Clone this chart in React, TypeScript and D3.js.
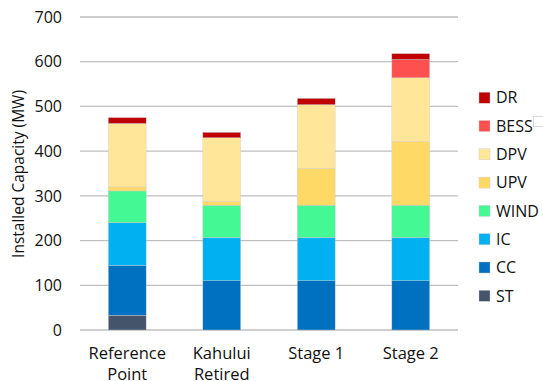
import React, { useEffect, useRef } from 'react';
import * as d3 from 'd3';

const categories = [['Reference', 'Point'], ['Kahului', 'Retired'], ['Stage 1'], ['Stage 2']];
const seriesNames = ['ST', 'CC', 'IC', 'WIND', 'UPV', 'DPV', 'BESS', 'DR'];
const colors = ['#44546A', '#0070C0', '#00B0F0', '#44F994', '#FFD966', '#FFE699', '#FF5050', '#C00000'];
const ST = [33, 0, 0, 0];
const CC = [111, 110, 110, 110];
const IC = [96, 97, 97, 97];
const WIND = [71, 72, 72, 72];
const UPV = [9, 8, 82, 142];
const DPV = [142, 143, 143, 143];
const BESS = [0, 0, 0, 41];
const DR = [13, 12, 14, 13];
const yTicks = [0, 100, 200, 300, 400, 500, 600, 700];

const W = 543, H = 381;
const FONT = '"Open Sans", sans-serif';
const INK = '#111';

export default function App() {
  const ref = useRef<SVGSVGElement>(null);

  useEffect(() => {
    document.body.style.margin = '0';
    const svg = d3.select(ref.current);
    svg.selectAll('*').remove();

    const vals = [ST, CC, IC, WIND, UPV, DPV, BESS, DR];
    const rows = categories.map((c, i) => {
      const r: any = { key: c.join(' ') };
      seriesNames.forEach((s, j) => { r[s] = vals[j][i]; });
      return r;
    });
    const stacked = d3.stack().keys(seriesNames)(rows);

    const x = d3.scaleBand().domain(rows.map(r => r.key)).range([80, 458]).paddingInner(0.6).paddingOuter(0.3);
    const y = d3.scaleLinear().domain([0, 700]).range([330, 17]);

    // grid
    svg.append('g').selectAll('line').data(yTicks).enter().append('line')
      .attr('x1', 80).attr('x2', 458)
      .attr('y1', d => y(d)).attr('y2', d => y(d))
      .attr('stroke', '#bfbfbf').attr('stroke-width', 1.3);

    svg.append('g').selectAll('text').data(yTicks).enter().append('text')
      .attr('x', 62).attr('y', d => y(d)).attr('dy', '0.36em')
      .attr('text-anchor', 'end').attr('font-family', FONT).attr('font-size', 16).attr('fill', INK)
      .text(d => d);

    svg.append('text')
      .attr('transform', 'translate(24,174) rotate(-90)')
      .attr('text-anchor', 'middle').attr('font-family', FONT).attr('font-size', 15.5).attr('fill', INK)
      .text('Installed Capacity (MW)');

    // bars
    stacked.forEach((layer, j) => {
      svg.append('g').selectAll('rect').data(layer).enter().append('rect')
        .attr('x', d => x((d.data as any).key)!)
        .attr('width', x.bandwidth())
        .attr('y', d => y(d[1]))
        .attr('height', d => y(d[0]) - y(d[1]))
        .attr('fill', colors[j])
        .attr('stroke', d => (d[1] - d[0] > 0 ? '#c8c8c8' : 'none'))
        .attr('stroke-width', 0.4);
    });

    // x labels
    const xl = svg.append('g');
    categories.forEach((c, i) => {
      const cx = x(rows[i].key)! + x.bandwidth() / 2;
      c.forEach((line, k) => {
        xl.append('text').attr('x', cx).attr('y', 359 + k * 21)
          .attr('text-anchor', 'middle').attr('font-family', FONT).attr('font-size', 16.5).attr('fill', INK)
          .text(line);
      });
    });

    // legend
    const order = seriesNames.slice().reverse();
    const lg = svg.append('g');
    order.forEach((s, k) => {
      const cy = 97.7 + k * 28.3;
      lg.append('rect').attr('x', 479).attr('y', cy - 5.5).attr('width', 11).attr('height', 11)
        .attr('fill', colors[seriesNames.indexOf(s)]).attr('stroke', '#c8c8c8').attr('stroke-width', 0.4);
      lg.append('text').attr('x', 496).attr('y', cy).attr('dy', '0.36em')
        .attr('font-family', FONT).attr('font-size', 16).attr('fill', INK).text(s);
    });
    lg.append('rect').attr('x', 533.5).attr('y', 116.5).attr('width', 12).attr('height', 10)
      .attr('fill', 'none').attr('stroke', '#d0d0d0').attr('stroke-width', 0.8);
  }, []);

  return <svg ref={ref} width={W} height={H} style={{ display: 'block', background: '#fff' }} />;
}
